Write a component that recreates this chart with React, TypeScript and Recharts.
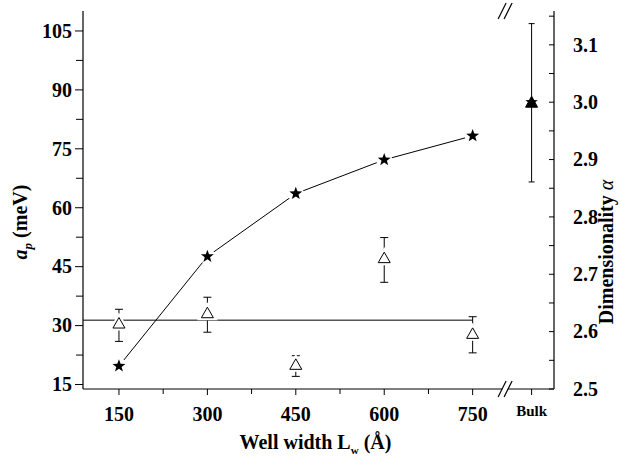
import {
  ComposedChart,
  Line,
  Scatter,
  XAxis,
  YAxis,
  ErrorBar,
  ReferenceLine,
  ReferenceDot,
} from "recharts";

// well widths (Å) and the two measured quantities
const WELL_WIDTHS = [150, 300, 450, 600, 750];
const AP_MEV = [19.7, 47.6, 63.6, 72.2, 78.3];
const ALPHA = [2.615, 2.633, 2.543, 2.729, 2.597];
const ALPHA_LOW = [2.583, 2.599, 2.522, 2.686, 2.563];
const ALPHA_HIGH = [2.639, 2.66, 2.558, 2.764, 2.626];
const ALPHA_MEAN = 2.62;

// bulk point, shown past the axis break
const BULK_X = 850;
const BULK_ALPHA = 3.0;
const BULK_LOW = 2.861;
const BULK_HIGH = 3.137;
const BREAK_X = 805;

const X_DOMAIN = [89, 888];
const LEFT_DOMAIN = [13.86, 110.08];
const RIGHT_DOMAIN = [2.5, 3.159];

const X_TICKS = [150, 225, 300, 375, 450, 525, 600, 675, 750, 850];
const X_LABELS: Record<number, string> = {
  150: "150",
  300: "300",
  450: "450",
  600: "600",
  750: "750",
  850: "Bulk",
};
const LEFT_TICKS = [15, 22.5, 30, 37.5, 45, 52.5, 60, 67.5, 75, 82.5, 90, 97.5, 105];
const RIGHT_TICKS = [2.5, 2.55, 2.6, 2.65, 2.7, 2.75, 2.8, 2.85, 2.9, 2.95, 3.0, 3.05, 3.1, 3.15];

const TXT = {
  fontFamily: "'Liberation Serif', 'DejaVu Serif', serif",
  fontWeight: 700,
};

const starData = WELL_WIDTHS.map((x, i) => ({ x, ap: AP_MEV[i] }));
const alphaData = WELL_WIDTHS.map((x, i) => ({
  x,
  alpha: ALPHA[i],
  err: [ALPHA[i] - ALPHA_LOW[i], ALPHA_HIGH[i] - ALPHA[i]],
}));
const bulkData = [
  { x: BULK_X, alpha: BULK_ALPHA, err: [BULK_ALPHA - BULK_LOW, BULK_HIGH - BULK_ALPHA] },
];

function starPath(cx: number, cy: number, ro: number, ri: number) {
  const pts: string[] = [];
  for (let k = 0; k < 10; k++) {
    const r = k % 2 === 0 ? ro : ri;
    const a = -Math.PI / 2 + (k * Math.PI) / 5;
    pts.push(`${(cx + r * Math.cos(a)).toFixed(2)},${(cy + r * Math.sin(a)).toFixed(2)}`);
  }
  return `M${pts.join("L")}Z`;
}

const StarDot = (props: any) => {
  const { cx, cy } = props;
  if (cx == null || cy == null) return null;
  return (
    <g>
      <circle cx={cx} cy={cy} r={8} fill="#fff" />
      <path d={starPath(cx, cy, 6.8, 2.8)} fill="#000" />
    </g>
  );
};

const OpenTriangle = (props: any) => {
  const { cx, cy } = props;
  const pts = `${cx},${cy - 5.5} ${cx - 6},${cy + 5} ${cx + 6},${cy + 5}`;
  return (
    <g>
      <polygon points={pts} fill="#fff" stroke="#fff" strokeWidth={5} />
      <polygon points={pts} fill="#fff" stroke="#000" strokeWidth={1} />
    </g>
  );
};

const BulkMarker = (props: any) => {
  const { cx, cy } = props;
  const pts = `${cx},${cy - 6} ${cx - 6},${cy + 5} ${cx + 6},${cy + 5}`;
  return (
    <g>
      <polygon points={pts} fill="#000" stroke="#000" strokeWidth={1} />
      <path d={starPath(cx, cy, 6.5, 2.7)} fill="#000" />
    </g>
  );
};

const BreakMark = (props: any) => {
  const { cx, cy } = props;
  return (
    <g>
      <rect x={cx - 3} y={cy - 1.5} width={6} height={3} fill="#fff" />
      <line x1={cx - 7} y1={cy + 8} x2={cx + 1} y2={cy - 8} stroke="#000" strokeWidth={1.2} />
      <line x1={cx - 1} y1={cy + 8} x2={cx + 7} y2={cy - 8} stroke="#000" strokeWidth={1.2} />
    </g>
  );
};

const BottomTick = (props: any) => {
  const { x, y, payload } = props;
  const v = payload.value;
  const label = X_LABELS[v];
  const major = label !== undefined;
  const bulk = v === BULK_X;
  return (
    <g>
      <line x1={x} x2={x} y1={y} y2={y + (major ? 6 : 5)} stroke="#000" />
      {major && (
        <text
          x={x}
          y={y + (bulk ? 27 : 32)}
          textAnchor="middle"
          style={{ ...TXT, fontSize: bulk ? 15 : 20 }}
          fill="#000"
        >
          {label}
        </text>
      )}
    </g>
  );
};

const TopTick = (props: any) => {
  const { x, y, payload } = props;
  const major = X_LABELS[payload.value] !== undefined;
  return <line x1={x} x2={x} y1={y} y2={y + (major ? 8 : 5)} stroke="#000" />;
};

const LeftTick = (props: any) => {
  const { x, y, payload } = props;
  const v = payload.value;
  const major = v % 15 === 0;
  return (
    <g>
      <line x1={x - (major ? 8 : 7)} x2={x} y1={y} y2={y} stroke="#000" />
      {major && (
        <text
          x={x - 11}
          y={y}
          dy="0.34em"
          textAnchor="end"
          style={{ ...TXT, fontSize: 20 }}
          fill="#000"
        >
          {v}
        </text>
      )}
    </g>
  );
};

const RightTick = (props: any) => {
  const { x, y, payload } = props;
  const v = payload.value;
  const major = Math.round(v * 100) % 10 === 0;
  return (
    <g>
      <line x1={x - 5} x2={x} y1={y} y2={y} stroke="#000" />
      {major && (
        <text
          x={x + 19}
          y={y}
          dy="0.34em"
          textAnchor="start"
          style={{ ...TXT, fontSize: 20 }}
          fill="#000"
        >
          {v.toFixed(1)}
        </text>
      )}
    </g>
  );
};

const XTitle = (props: any) => {
  const { viewBox } = props;
  return (
    <text
      x={viewBox.x + viewBox.width / 2 - 3}
      y={viewBox.y + 60}
      textAnchor="middle"
      style={{ ...TXT, fontSize: 20 }}
      fill="#000"
    >
      Well width L
      <tspan style={{ fontSize: 11 }} dy={5}>
        w
      </tspan>
      <tspan dy={-5}> (Å)</tspan>
    </text>
  );
};

const LeftTitle = () => (
  <text
    transform="translate(27, 222) rotate(-90)"
    textAnchor="middle"
    style={{ ...TXT, fontSize: 20 }}
    fill="#000"
  >
    <tspan style={{ fontStyle: "italic" }}>a</tspan>
    <tspan style={{ fontStyle: "italic", fontSize: 13 }} dy={5}>
      p
    </tspan>
    <tspan dy={-5}> (meV)</tspan>
  </text>
);

const RightTitle = () => (
  <text
    transform="translate(613, 252) rotate(-90)"
    textAnchor="middle"
    style={{ ...TXT, fontSize: 20 }}
    fill="#000"
  >
    Dimensionality <tspan style={{ fontStyle: "italic", fontWeight: 400 }}>α</tspan>
  </text>
);

export default function App() {
  return (
    <div style={{ position: "absolute", left: 0, top: 0, background: "#fff" }}>
      <ComposedChart
        width={621}
        height={459}
        margin={{ top: 11, right: 0, bottom: 0, left: 0 }}
      >
        <XAxis
          dataKey="x"
          type="number"
          domain={X_DOMAIN}
          ticks={X_TICKS}
          interval={0}
          allowDataOverflow
          height={70}
          tickSize={0}
          tickMargin={0}
          tickLine={false}
          tick={<BottomTick />}
          axisLine={{ stroke: "#000", strokeWidth: 1.2 }}
          label={<XTitle />}
        />
        <XAxis
          xAxisId="top"
          orientation="top"
          dataKey="x"
          type="number"
          domain={X_DOMAIN}
          ticks={X_TICKS}
          interval={0}
          allowDataOverflow
          height={0}
          tickSize={0}
          tickMargin={0}
          tickLine={false}
          tick={<TopTick />}
          axisLine={{ stroke: "#000", strokeWidth: 1.2 }}
        />
        <YAxis
          yAxisId="left"
          orientation="left"
          type="number"
          domain={LEFT_DOMAIN}
          ticks={LEFT_TICKS}
          interval={0}
          allowDataOverflow
          width={83}
          tickSize={0}
          tickMargin={0}
          tickLine={false}
          tick={<LeftTick />}
          axisLine={{ stroke: "#000", strokeWidth: 1.2 }}
          label={<LeftTitle />}
        />
        <YAxis
          yAxisId="right"
          orientation="right"
          type="number"
          domain={RIGHT_DOMAIN}
          ticks={RIGHT_TICKS}
          interval={0}
          allowDataOverflow
          width={67}
          tickSize={0}
          tickMargin={0}
          tickLine={false}
          tick={<RightTick />}
          axisLine={{ stroke: "#000", strokeWidth: 1.2 }}
          label={<RightTitle />}
        />

        <ReferenceLine
          yAxisId="right"
          segment={[
            { x: X_DOMAIN[0], y: ALPHA_MEAN },
            { x: WELL_WIDTHS[WELL_WIDTHS.length - 1], y: ALPHA_MEAN },
          ]}
          stroke="#000"
          strokeWidth={1}
        />

        <Scatter
          data={alphaData}
          dataKey="alpha"
          yAxisId="right"
          shape={<OpenTriangle />}
          isAnimationActive={false}
        >
          <ErrorBar dataKey="err" direction="y" width={4} stroke="#000" strokeWidth={1} />
        </Scatter>

        <Scatter
          data={bulkData}
          dataKey="alpha"
          yAxisId="right"
          shape={<BulkMarker />}
          isAnimationActive={false}
        >
          <ErrorBar dataKey="err" direction="y" width={3} stroke="#000" strokeWidth={1} />
        </Scatter>

        <Line
          data={starData}
          dataKey="ap"
          yAxisId="left"
          stroke="#000"
          strokeWidth={1}
          dot={<StarDot />}
          activeDot={false}
          isAnimationActive={false}
        />

        <ReferenceDot
          x={BREAK_X}
          y={RIGHT_DOMAIN[0]}
          yAxisId="right"
          ifOverflow="visible"
          shape={<BreakMark />}
        />
        <ReferenceDot
          x={BREAK_X}
          y={RIGHT_DOMAIN[1]}
          yAxisId="right"
          ifOverflow="visible"
          shape={<BreakMark />}
        />
      </ComposedChart>
    </div>
  );
}
